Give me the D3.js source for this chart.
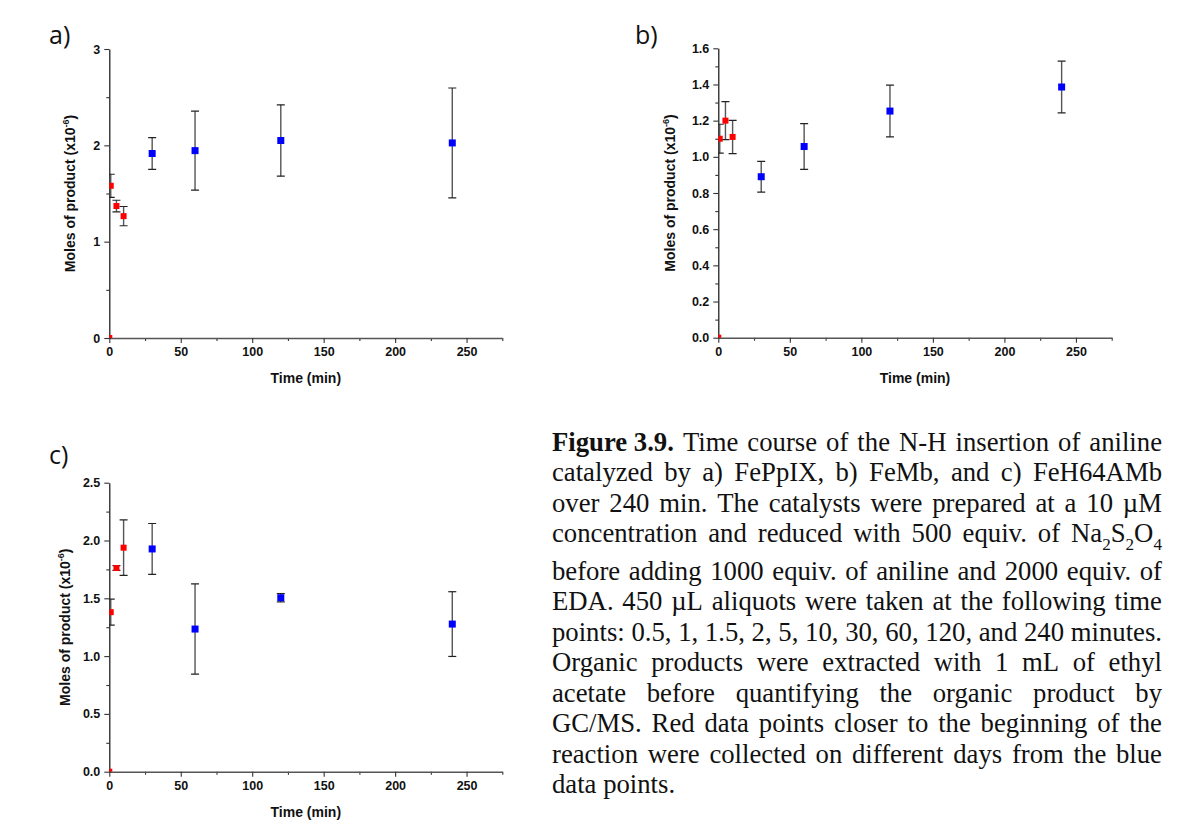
<!DOCTYPE html>
<html>
<head>
<meta charset="utf-8">
<script src="https://cdn.jsdelivr.net/npm/d3@7"></script>
<style>
  html, body { margin: 0; padding: 0; background: #fff; }
  svg { display: block; }
</style>
</head>
<body>
<svg id="fig" width="1177" height="833"></svg>
<script>
// Sampling times (min): red = early points, blue = later points
const redTime  = [0, 1, 5, 10];
const blueTime = [30, 60, 120, 240];

// a) FePpIX — moles of product (x10^-6) and error
const aRedMean  = [0, 1.58, 1.37, 1.265];
const aRedErr   = [0, 0.12, 0.06, 0.10];
const aBlueMean = [1.915, 1.945, 2.05, 2.025];
const aBlueErr  = [0.165, 0.41, 0.37, 0.57];

// b) FeMb
const bRedMean  = [0, 1.10, 1.20, 1.11];
const bRedErr   = [0, 0.08, 0.105, 0.092];
const bBlueMean = [0.89, 1.057, 1.253, 1.386];
const bBlueErr  = [0.085, 0.126, 0.143, 0.143];

// c) FeH64AMb
const cRedMean  = [0, 1.38, 1.762, 1.938];
const cRedErr   = [0, 0.112, 0.02, 0.24];
const cBlueMean = [1.927, 1.234, 1.505, 1.277];
const cBlueErr  = [0.22, 0.39, 0.036, 0.28];

// Tick labels
const xTicks      = [0, 50, 100, 150, 200, 250];
const xMinorTicks = [25, 75, 125, 175, 225, 275];
const aYTicks = [0, 1, 2, 3];
const aYMinor = [0.5, 1.5, 2.5];
const bYTicks = [0, 0.2, 0.4, 0.6, 0.8, 1.0, 1.2, 1.4, 1.6];
const bYMinor = [0.1, 0.3, 0.5, 0.7, 0.9, 1.1, 1.3, 1.5];
const cYTicks = [0, 0.5, 1.0, 1.5, 2.0, 2.5];
const cYMinor = [0.25, 0.75, 1.25, 1.75, 2.25];

const xMax = 275;

// Caption lines; "chem" marks a formula with subscripted runs
const captionLines = [
  [{b: "Figure 3.9."}, "Time course of the N-H insertion of aniline"],
  ["catalyzed by a) FePpIX, b) FeMb, and c) FeH64AMb"],
  ["over 240 min. The catalysts were prepared at a 10 \u00b5M"],
  ["concentration and reduced with 500 equiv. of", {chem: [["Na",0],["2",1],["S",0],["2",1],["O",0],["4",1]]}],
  ["before adding 1000 equiv. of aniline and 2000 equiv. of"],
  ["EDA. 450 \u00b5L aliquots were taken at the following time"],
  ["points: 0.5, 1, 1.5, 2, 5, 10, 30, 60, 120, and 240 minutes."],
  ["Organic products were extracted with 1 mL of ethyl"],
  ["acetate before quantifying the organic product by"],
  ["GC/MS. Red data points closer to the beginning of the"],
  ["reaction were collected on different days from the blue"],
  ["data points."]
];

const svg = d3.select("#fig");
const SANS = "'Liberation Sans', Arial, sans-serif";

function zip(t, m, e) { return t.map((d, i) => ({t: d, m: m[i], e: e[i]})); }

function drawPanel(cfg) {
  const x = d3.scaleLinear().domain([0, xMax]).range([cfg.x0, cfg.x1]);
  const y = d3.scaleLinear().domain([0, cfg.yMax]).range([cfg.yBot, cfg.yTop]);
  const g = svg.append("g");

  const clipId = "clip-" + cfg.id;
  svg.append("clipPath").attr("id", clipId)
    .append("rect")
    .attr("x", cfg.x0).attr("y", cfg.yTop - 20)
    .attr("width", cfg.x1 - cfg.x0 + 10).attr("height", cfg.yBot - cfg.yTop + 20);

  // panel letter
  g.append("text").attr("x", cfg.lx).attr("y", cfg.ly)
    .attr("font-family", "'Open Sans', 'Noto Sans', sans-serif")
    .attr("font-size", 25).attr("fill", "#111").text(cfg.label);

  // minor ticks
  g.append("g").attr("transform", `translate(0,${cfg.yBot})`)
    .call(d3.axisBottom(x).tickValues(xMinorTicks).tickSize(3).tickFormat(""))
    .call(s => s.select(".domain").remove());
  g.append("g").attr("transform", `translate(${cfg.x0},0)`)
    .call(d3.axisLeft(y).tickValues(cfg.yMinor).tickSize(3).tickFormat(""))
    .call(s => s.select(".domain").remove());

  // major axes
  const xa = g.append("g").attr("transform", `translate(0,${cfg.yBot})`)
    .call(d3.axisBottom(x).tickValues(xTicks).tickSize(5).tickSizeOuter(0).tickPadding(4).tickFormat(d3.format("d")));
  const ya = g.append("g").attr("transform", `translate(${cfg.x0},0)`)
    .call(d3.axisLeft(y).tickValues(cfg.yTicks).tickSize(5).tickSizeOuter(0).tickPadding(4).tickFormat(cfg.fmt));

  g.selectAll(".tick line").attr("stroke", "#333").attr("stroke-width", 1.1);
  xa.select(".domain").attr("stroke", "#555").attr("stroke-width", 1.6);
  ya.select(".domain").attr("stroke", "#111").attr("stroke-width", 1.2);
  [xa, ya].forEach(a => a.selectAll("text")
    .attr("font-family", SANS).attr("font-weight", "bold")
    .attr("font-size", 12.5).attr("fill", "#111"));

  // axis titles
  g.append("text")
    .attr("x", (cfg.x0 + cfg.x1) / 2).attr("y", cfg.yBot + 45)
    .attr("text-anchor", "middle").attr("font-family", SANS)
    .attr("font-weight", "bold").attr("font-size", 14).attr("fill", "#111")
    .text("Time (min)");

  const yt = g.append("text")
    .attr("transform", `translate(${cfg.yTitleX},${(cfg.yTop + cfg.yBot) / 2}) rotate(-90)`)
    .attr("text-anchor", "middle").attr("font-family", SANS)
    .attr("font-weight", "bold").attr("font-size", 14).attr("fill", "#111");
  yt.append("tspan").text("Moles of product (x10");
  yt.append("tspan").attr("dy", -6).attr("font-size", 9).text("-6");
  yt.append("tspan").attr("dy", 6).text(")");

  // data
  const plot = g.append("g").attr("clip-path", `url(#${clipId})`);
  const series = [
    {pts: zip(redTime, cfg.redMean, cfg.redErr), color: "#ff0000", size: 6},
    {pts: zip(blueTime, cfg.blueMean, cfg.blueErr), color: "#0000ff", size: 7}
  ];
  series.forEach(s => {
    const eb = plot.append("g").selectAll("g").data(s.pts.filter(d => d.e > 0)).join("g");
    eb.append("line")
      .attr("x1", d => x(d.t)).attr("x2", d => x(d.t))
      .attr("y1", d => y(d.m + d.e)).attr("y2", d => y(d.m - d.e))
      .attr("stroke", "#555").attr("stroke-width", 1.4);
    [1, -1].forEach(sg => eb.append("line")
      .attr("x1", d => x(d.t) - 4).attr("x2", d => x(d.t) + 4)
      .attr("y1", d => y(d.m + sg * d.e)).attr("y2", d => y(d.m + sg * d.e))
      .attr("stroke", "#222").attr("stroke-width", 1.2));
    plot.append("g").selectAll("rect").data(s.pts).join("rect")
      .attr("x", d => x(d.t) - s.size / 2).attr("y", d => y(d.m) - s.size / 2)
      .attr("width", s.size).attr("height", s.size)
      .attr("fill", s.color);
  });
}

drawPanel({id: "a", label: "a)", lx: 49, ly: 44,
  x0: 109.3, x1: 502.3, yTop: 49, yBot: 338, yMax: 3,
  yTicks: aYTicks, yMinor: aYMinor, fmt: d3.format("d"), yTitleX: 75,
  redMean: aRedMean, redErr: aRedErr, blueMean: aBlueMean, blueErr: aBlueErr});

drawPanel({id: "b", label: "b)", lx: 635, ly: 44,
  x0: 718.3, x1: 1111.7, yTop: 48.3, yBot: 337.7, yMax: 1.6,
  yTicks: bYTicks, yMinor: bYMinor, fmt: d3.format(".1f"), yTitleX: 675,
  redMean: bRedMean, redErr: bRedErr, blueMean: bBlueMean, blueErr: bBlueErr});

drawPanel({id: "c", label: "c)", lx: 49, ly: 464,
  x0: 109.3, x1: 502.3, yTop: 482.7, yBot: 771.7, yMax: 2.5,
  yTicks: cYTicks, yMinor: cYMinor, fmt: d3.format(".1f"), yTitleX: 70,
  redMean: cRedMean, redErr: cRedErr, blueMean: cBlueMean, blueErr: cBlueErr});

// Caption: justified block between two margins
const capLeft = 552, capRight = 1162, capFont = 26.5;
const capG = svg.append("g")
  .attr("font-family", "'Liberation Serif', 'Times New Roman', serif")
  .attr("font-size", capFont).attr("fill", "#111");

function lineWords(parts) {
  const words = [];
  parts.forEach(p => {
    if (typeof p === "string") p.split(" ").forEach(w => words.push({w}));
    else if (p.b) words.push({w: p.b, bold: true});
    else if (p.chem) words.push({chem: p.chem});
  });
  return words;
}

// the fullest line sets the block width; fine-tune glyph width so it fits exactly
const probe = capG.append("text").text(captionLines[6][0]);
const naturalW = probe.node().getComputedTextLength();
probe.remove();
const sx = (capRight - capLeft) / naturalW;
const inner = capG.append("g").attr("transform", `translate(${capLeft},0) scale(${sx},1)`);
const innerW = (capRight - capLeft) / sx;

let baseY = 451;
captionLines.forEach((parts, li) => {
  const words = lineWords(parts);
  const nodes = words.map(wd => {
    const t = inner.append("text").attr("y", baseY);
    if (wd.chem) {
      wd.chem.forEach(([s, sub]) => {
        t.append("tspan").attr("font-size", sub ? 17 : capFont)
          .attr("baseline-shift", sub ? -8 : 0)
          .text(s);
      });
    } else {
      t.text(wd.w);
      if (wd.bold) t.attr("font-weight", "bold");
    }
    return t;
  });
  const widths = nodes.map(n => n.node().getComputedTextLength());
  const total = d3.sum(widths);
  const last = li === captionLines.length - 1;
  const gap = last ? capFont * 0.25 : (innerW - total) / (nodes.length - 1);
  let cx = 0;
  nodes.forEach((n, i) => { n.attr("x", cx); cx += widths[i] + gap; });
  baseY += (li === 3) ? 37.5 : 30.5;
});
</script>
</body>
</html>
